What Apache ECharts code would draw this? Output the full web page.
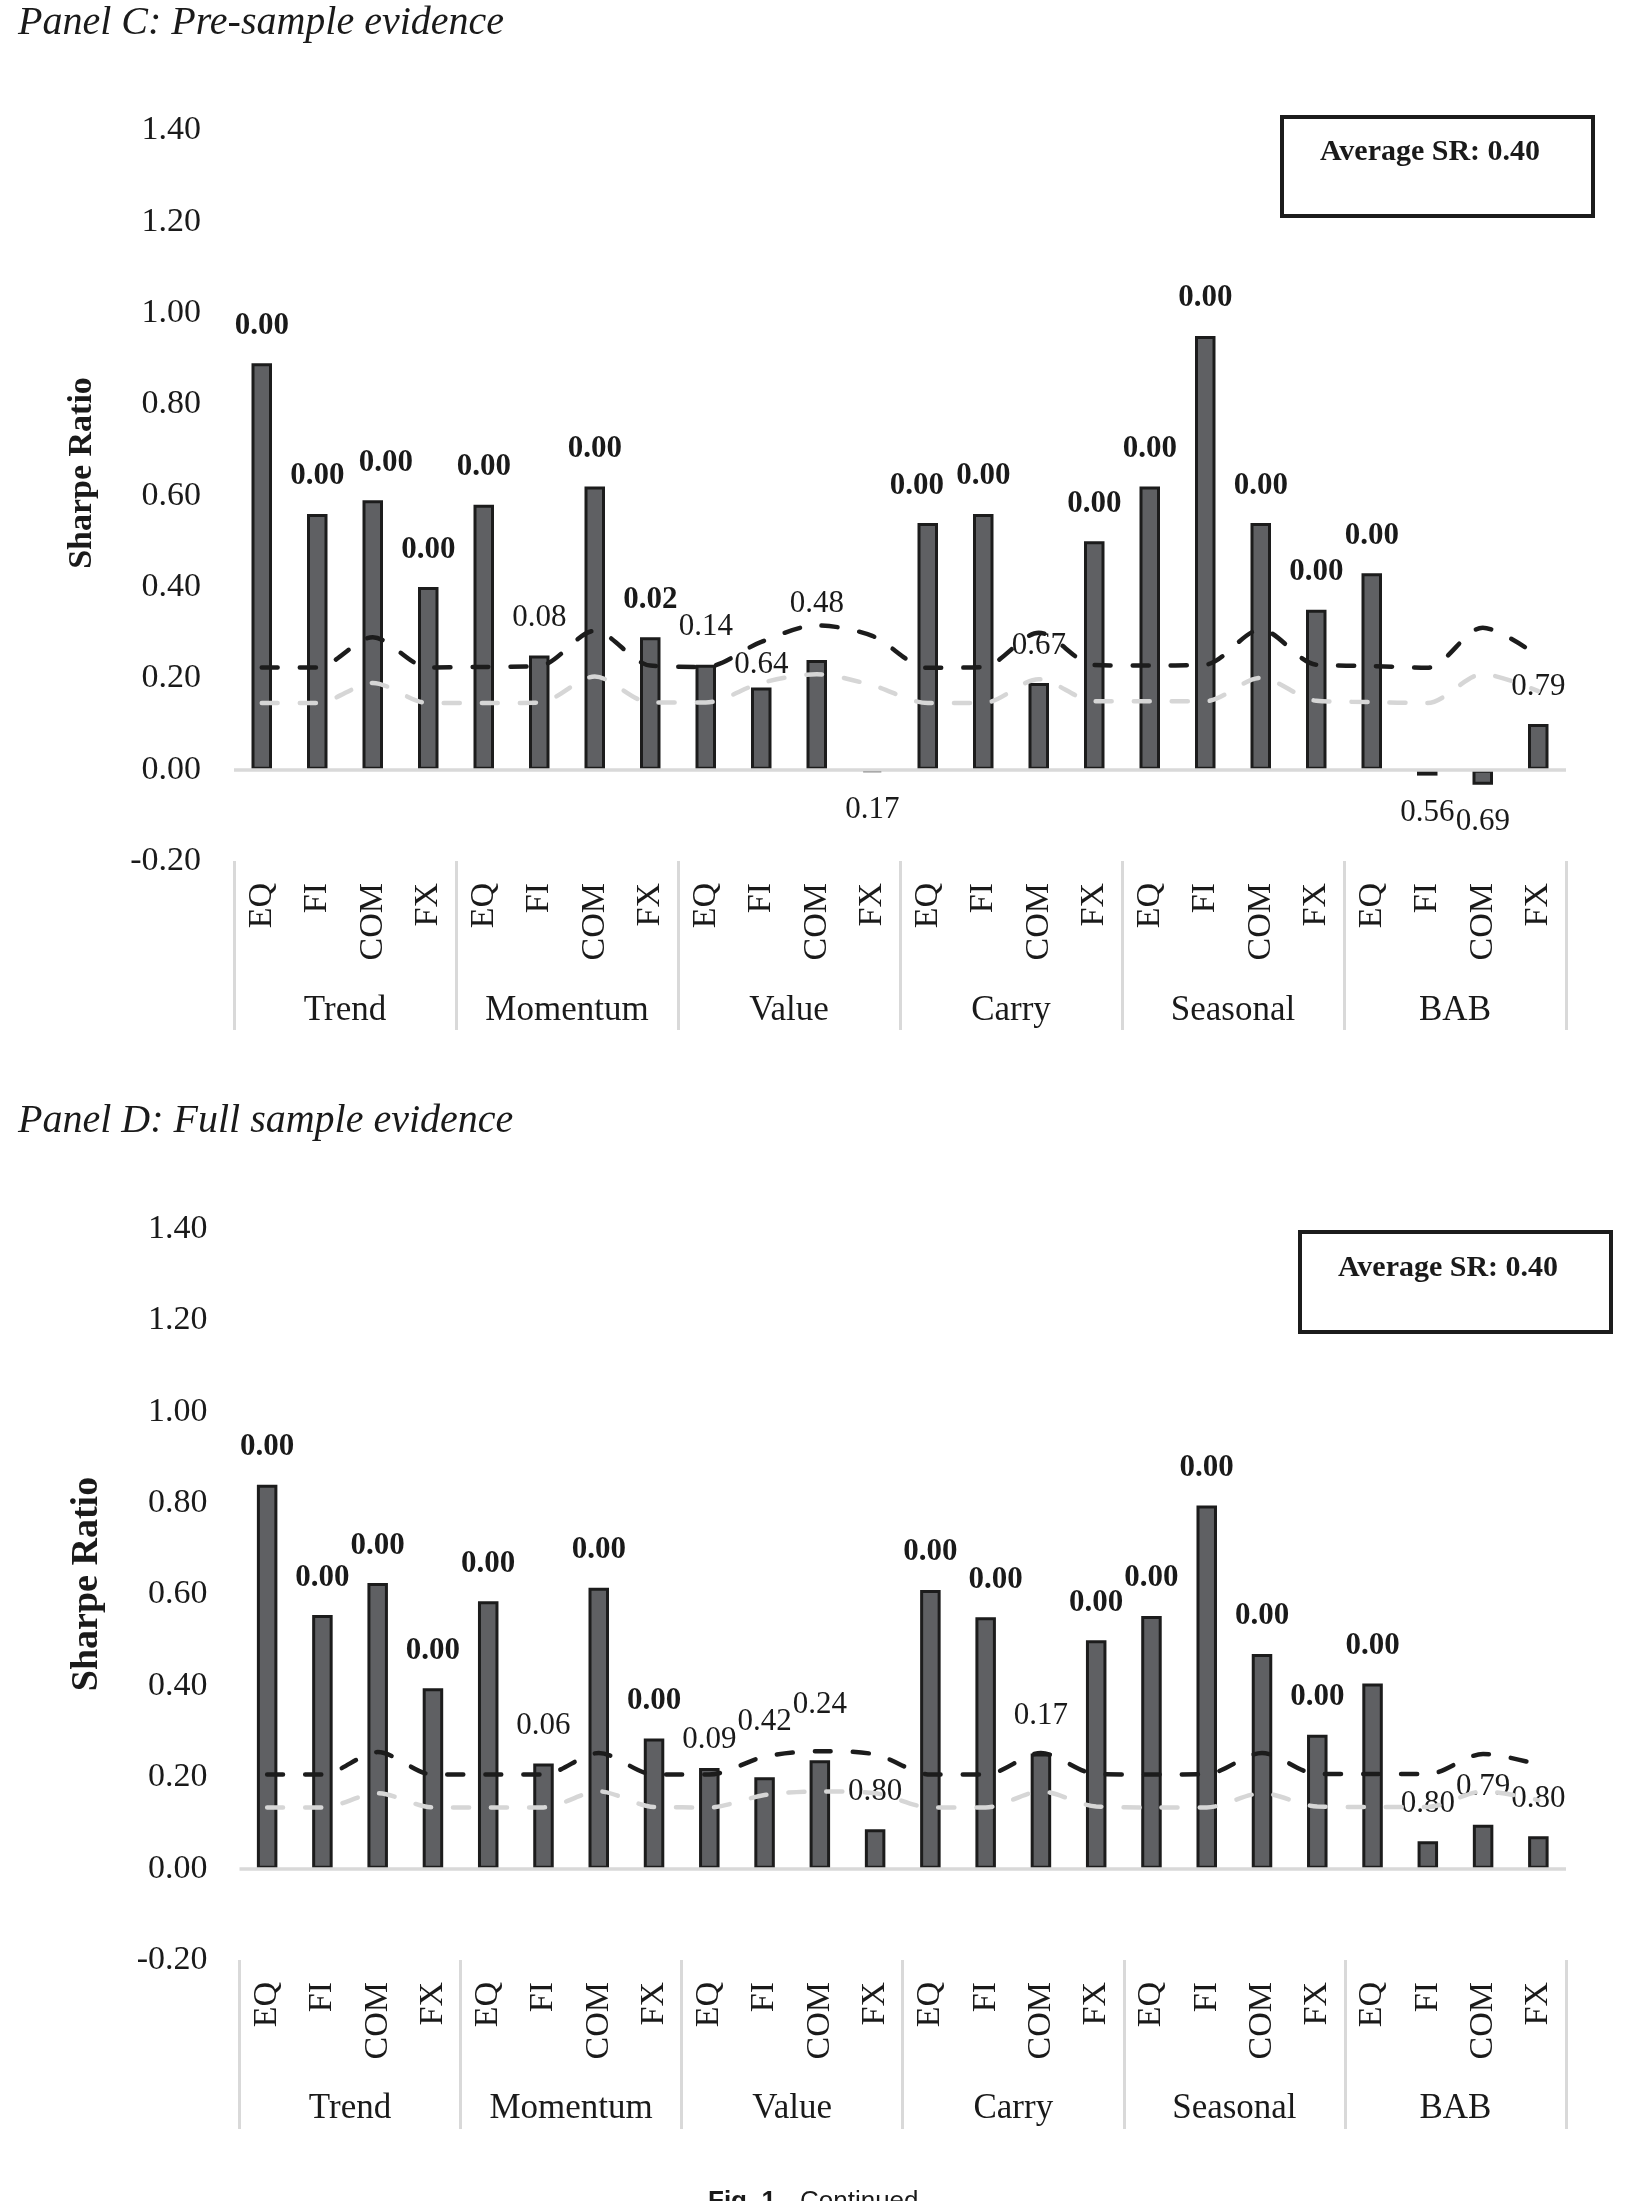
<!DOCTYPE html>
<html>
<head>
<meta charset="utf-8">
<title>Sharpe ratios by style and asset class</title>
<script src="https://cdn.jsdelivr.net/npm/echarts@6/dist/echarts.min.js"></script>
<style>
  html, body { margin: 0; padding: 0; background: #fff; }
  #chart { width: 1634px; height: 2201px; }
</style>
</head>
<body>
<div id="chart"></div>
<script>
// categories: asset classes inside each style
const assetClasses = ['EQ', 'FI', 'COM', 'FX'];
const styles = ['Trend', 'Momentum', 'Value', 'Carry', 'Seasonal', 'BAB'];

// Panel C: pre-sample
const srPre = [0.89, 0.56, 0.59, 0.40, 0.58, 0.25, 0.62, 0.29, 0.23, 0.18, 0.24, -0.005,
  0.54, 0.56, 0.19, 0.50, 0.62, 0.95, 0.54, 0.35, 0.43, -0.013, -0.033, 0.10];
const pPre = [0.00, 0.00, 0.00, 0.00, 0.00, 0.08, 0.00, 0.02, 0.14, 0.64, 0.48, 0.17,
  0.00, 0.00, 0.67, 0.00, 0.00, 0.00, 0.00, 0.00, 0.00, 0.56, 0.69, 0.79];
const hiPre = [0.224, 0.224, 0.290, 0.224, 0.225, 0.227, 0.304, 0.228, 0.225, 0.280, 0.316, 0.293,
  0.223, 0.225, 0.300, 0.229, 0.228, 0.230, 0.307, 0.230, 0.227, 0.223, 0.311, 0.249];
const loPre = [0.146, 0.146, 0.190, 0.146, 0.146, 0.147, 0.204, 0.147, 0.147, 0.190, 0.209, 0.185,
  0.146, 0.146, 0.198, 0.150, 0.150, 0.150, 0.201, 0.151, 0.148, 0.146, 0.209, 0.172];

// Panel D: full sample
const srFull = [0.84, 0.555, 0.625, 0.395, 0.585, 0.23, 0.615, 0.285, 0.22, 0.20, 0.237, 0.086,
  0.61, 0.55, 0.252, 0.50, 0.553, 0.795, 0.47, 0.293, 0.405, 0.06, 0.096, 0.071];
const pFull = [0.00, 0.00, 0.00, 0.00, 0.00, 0.06, 0.00, 0.00, 0.09, 0.42, 0.24, 0.80,
  0.00, 0.00, 0.17, 0.00, 0.00, 0.00, 0.00, 0.00, 0.00, 0.80, 0.79, 0.80];
const hiFull = [0.206, 0.206, 0.255, 0.206, 0.206, 0.206, 0.253, 0.206, 0.206, 0.245, 0.257, 0.250,
  0.206, 0.206, 0.253, 0.207, 0.206, 0.207, 0.253, 0.207, 0.207, 0.207, 0.251, 0.228];
const loFull = [0.134, 0.134, 0.165, 0.134, 0.134, 0.134, 0.169, 0.135, 0.134, 0.161, 0.169, 0.165,
  0.134, 0.134, 0.169, 0.136, 0.134, 0.134, 0.165, 0.136, 0.135, 0.135, 0.169, 0.150];

const avgSR = [0.40, 0.40];

// labels that were moved by hand in the original, [dx, dy] in px
const labelNudgePre = { 2: [13, 0], 9: [0, 15], 10: [0, -19], 12: [-11, 0] };
const labelNudgeFull = { 8: [0, 9], 9: [0, -18], 10: [0, -18], 13: [10, 0] };

const serif = '"Liberation Serif", "Times New Roman", serif';
const ink = '#1a1a1a';
const cats = styles.flatMap(() => assetClasses);

function barData(sr, p, nudge) {
  return sr.map((v, i) => ({
    value: v,
    label: {
      position: v < 0 ? 'bottom' : 'top',
      fontWeight: p[i] < 0.05 ? 'bold' : 'normal',
      offset: nudge[i] || [0, 0]
    }
  }));
}

function panel(idx, g, sr, p, hi, lo, nudge) {
  const grid = { left: g.left, top: g.top, width: g.width, height: g.height };
  const xAxes = [
    {
      type: 'category', gridIndex: idx, data: cats, position: 'bottom',
      axisLine: { show: false }, axisTick: { show: false },
      axisLabel: { rotate: 90, margin: 22, interval: 0, fontFamily: serif, fontSize: 34, color: ink }
    },
    {
      type: 'category', gridIndex: idx, data: styles, position: 'bottom',
      axisLine: { show: false },
      axisTick: { show: true, interval: 0, length: 169, lineStyle: { color: '#d9d9d9', width: 3 } },
      axisLabel: { margin: g.groupMargin, interval: 0, fontFamily: serif, fontSize: 35, lineHeight: 35, color: ink }
    }
  ];
  const yAxis = {
    type: 'value', gridIndex: idx, min: -0.2, max: 1.4, interval: 0.2,
    axisLine: { show: false }, axisTick: { show: false }, splitLine: { show: false },
    axisLabel: {
      margin: g.yMargin, fontFamily: serif, fontSize: 34, color: ink, padding: [4, 0, 0, 0],
      formatter: v => (Math.abs(v) < 1e-9 ? 0 : v).toFixed(2)
    }
  };
  const series = [
    {
      type: 'bar', xAxisIndex: idx * 2, yAxisIndex: idx,
      data: barData(sr, p, nudge), barWidth: 20.5, z: 2,
      itemStyle: { color: '#5f6063', borderColor: '#1c1c1c', borderWidth: 3 },
      label: {
        show: true, distance: 22, fontFamily: serif, fontSize: 31, color: ink,
        formatter: prm => p[prm.dataIndex].toFixed(2)
      },
      markLine: {
        silent: true, symbol: 'none', label: { show: false },
        lineStyle: { color: '#d9d9d9', width: 3.5, type: 'solid' },
        data: [{ yAxis: 0 }]
      }
    },
    {
      type: 'line', xAxisIndex: idx * 2, yAxisIndex: idx, data: lo, symbol: 'none', smooth: 0.3, z: 3,
      lineStyle: { color: '#d6d6d6', width: 4.5, type: [16, 22], cap: 'round' }
    },
    {
      type: 'line', xAxisIndex: idx * 2, yAxisIndex: idx, data: hi, symbol: 'none', smooth: 0.3, z: 3,
      lineStyle: { color: '#1c1c1c', width: 4.5, type: [16, 22], cap: 'round' }
    }
  ];
  return { grid, xAxes, yAxis, series };
}

const pc = panel(0, { left: 234, top: 130.4, width: 1332, height: 730.6, groupMargin: 132.5, yMargin: 33 },
  srPre, pPre, hiPre, loPre, labelNudgePre);
const pd = panel(1, { left: 239.5, top: 1229, width: 1326.5, height: 731, groupMargin: 131.5, yMargin: 32 },
  srFull, pFull, hiFull, loFull, labelNudgeFull);

function txt(x, y, text, font, align, vAlign, rotation) {
  return {
    type: 'text', x: x, y: y, rotation: rotation || 0, z: 10,
    style: {
      text: text, font: font, fill: ink,
      align: align, textAlign: align, verticalAlign: vAlign, textVerticalAlign: vAlign
    }
  };
}

const option = {
  animation: false,
  backgroundColor: '#fff',
  textStyle: { fontFamily: serif },
  grid: [pc.grid, pd.grid],
  xAxis: pc.xAxes.concat(pd.xAxes),
  yAxis: [pc.yAxis, pd.yAxis],
  series: pc.series.concat(pd.series),
  graphic: [
    txt(18, 23, 'Panel C: Pre-sample evidence', 'italic 40px ' + serif, 'left', 'middle'),
    txt(18, 1121, 'Panel D: Full sample evidence', 'italic 40px ' + serif, 'left', 'middle'),
    txt(82, 473, 'Sharpe Ratio', 'bold 34px ' + serif, 'center', 'middle', Math.PI / 2),
    txt(87, 1584, 'Sharpe Ratio', 'bold 38px ' + serif, 'center', 'middle', Math.PI / 2),
    {
      type: 'rect', z: 9, shape: { x: 1282, y: 117, width: 311, height: 99 },
      style: { fill: '#fff', stroke: '#1c1c1c', lineWidth: 4 }
    },
    txt(1430, 152, 'Average SR: ' + avgSR[0].toFixed(2), 'bold 30px ' + serif, 'center', 'middle'),
    {
      type: 'rect', z: 9, shape: { x: 1300, y: 1232, width: 311, height: 100 },
      style: { fill: '#fff', stroke: '#1c1c1c', lineWidth: 4 }
    },
    txt(1448, 1268, 'Average SR: ' + avgSR[1].toFixed(2), 'bold 30px ' + serif, 'center', 'middle'),
    txt(708, 2189, 'Fig. 1.', 'bold 26px "Liberation Sans", Arial, sans-serif', 'left', 'top'),
    txt(800, 2189, 'Continued', '26px "Liberation Sans", Arial, sans-serif', 'left', 'top')
  ]
};

const chart = echarts.init(document.getElementById('chart'));
chart.setOption(option);
</script>
</body>
</html>
